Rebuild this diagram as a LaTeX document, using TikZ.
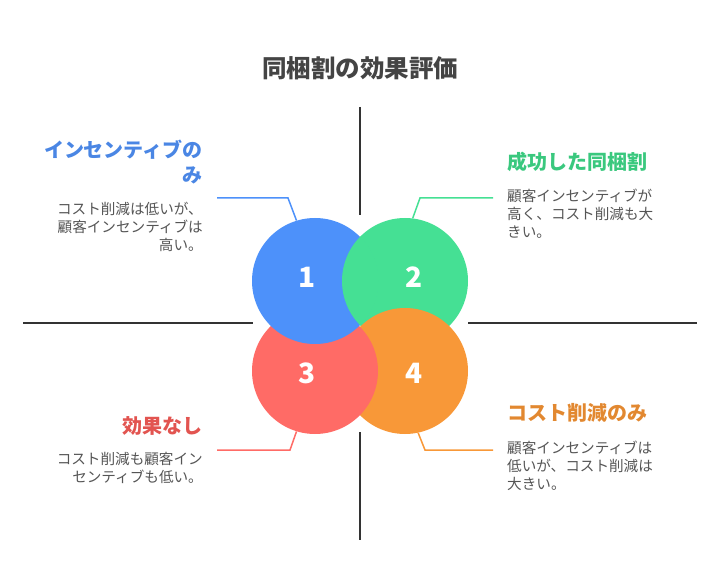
\documentclass[tikz,border=0pt]{standalone}
\usepackage{fontspec}
\setmainfont{Noto Sans CJK JP}
\usepackage{xcolor}
\usetikzlibrary{positioning,calc}

\begin{document}
\begin{tikzpicture}[
      x=1pt, y=-1pt,
      disc/.style={circle, minimum size=126pt, inner sep=0pt},
      num/.style={font=\fontsize{28}{30}\selectfont\bfseries, text=white, inner sep=0pt},
      head/.style={font=\fontsize{20}{25}\selectfont\bfseries, inner sep=0pt},
      body/.style={font=\fontsize{14.6}{18}\selectfont, text=bodygray, inner sep=0pt},
      axis/.style={line width=1.5pt, draw=axisgray},
      lead/.style={line width=1.5pt},
    ]
    \definecolor{bodygray}{RGB}{85,85,85}
    \definecolor{axisgray}{RGB}{51,51,51}
    \definecolor{titlegray}{RGB}{68,68,68}
    \definecolor{qblue}{RGB}{77,145,250}
    \definecolor{qgreen}{RGB}{69,224,148}
    \definecolor{qred}{RGB}{255,107,102}
    \definecolor{qorange}{RGB}{248,152,56}
    \definecolor{hblue}{RGB}{74,134,228}
    \definecolor{hgreen}{RGB}{58,200,126}
    \definecolor{hred}{RGB}{226,84,80}
    \definecolor{horange}{RGB}{226,136,48}

    \useasboundingbox (0,0) rectangle (721,588);

    \node[font=\fontsize{24.5}{28}\selectfont\bfseries, text=titlegray] (title) at (360,68) {同梱割の効果評価};

    % quadrant axes
    \coordinate (vtop) at (360,107);
    \coordinate (vtopend) at (360,215);
    \coordinate (vbot) at (360,432);
    \coordinate (vbotend) at (360,540);
    \coordinate (hleft) at (23,323);
    \coordinate (hleftend) at (253,323);
    \coordinate (hright) at (468,323);
    \coordinate (hrightend) at (697,323);
    \draw[axis] (vtop) -- (vtopend);
    \draw[axis] (vbot) -- (vbotend);
    \draw[axis] (hleft) -- (hleftend);
    \draw[axis] (hright) -- (hrightend);

    % circles
    \node[disc, fill=qgreen]  (c2) at (405,281) {};
    \node[disc, fill=qorange] (c4) at (405,371) {};
    \node[disc, fill=qred]    (c3) at (315,371) {};
    \node[disc, fill=qblue]   (c1) at (315,281) {};
    \begin{scope}
      \clip (315,281) circle (63.6);
      \fill[qgreen] (405,281) circle (63);
    \end{scope}

    \node[num] (n1) at (307,277) {1};
    \node[num] (n2) at (414,277) {2};
    \node[num] (n3) at (307,373) {3};
    \node[num] (n4) at (414,373) {4};

    % labels
    \node[head, text=hblue, align=right, anchor=north east] (h1) at (203,140) {インセンティブの\\み};
    \node[body, align=right, anchor=north east] (b1) at (203,202) {コスト削減は低いが、\\顧客インセンティブは\\高い。};
    \node[head, text=hgreen, align=left, anchor=north west] (h2) at (507,152) {成功した同梱割};
    \node[body, align=left, anchor=north west] (b2) at (507,189) {顧客インセンティブが\\高く、コスト削減も大\\きい。};
    \node[head, text=hred, align=right, anchor=north east] (h3) at (203,416) {効果なし};
    \node[body, align=right, anchor=north east] (b3) at (203,452) {コスト削減も顧客イン\\センティブも低い。};
    \node[head, text=horange, align=left, anchor=north west] (h4) at (507,403) {コスト削減のみ};
    \node[body, align=left, anchor=north west] (b4) at (507,441) {顧客インセンティブは\\低いが、コスト削減は\\大きい。};

    % leaders
    \coordinate (l1) at (217,198);
    \coordinate (l2) at (493,198);
    \coordinate (l3) at (217,450);
    \coordinate (l4) at (493,450);
    \draw[lead, qblue]   (l1) -- (288,198) -- (c1.107);
    \draw[lead, qgreen]  (c2.83) -- (420,198) -- (l2);
    \draw[lead, qred]    (c3.-107) -- (290,450) -- (l3);
    \draw[lead, qorange] (c4.-78) -- (425,450) -- (l4);
  \end{tikzpicture}
\end{document}
